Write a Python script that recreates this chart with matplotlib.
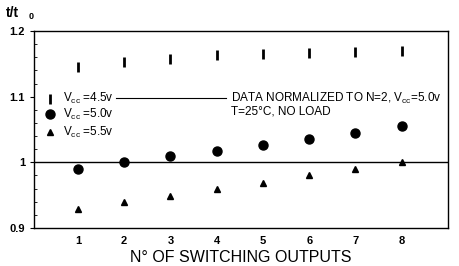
import matplotlib
matplotlib.use("Agg")
import matplotlib.pyplot as plt
from matplotlib.ticker import MultipleLocator

plt.rcParams["font.family"] = ["Liberation Sans", "DejaVu Sans"]
plt.rcParams["mathtext.default"] = "regular"

n_outputs = [1, 2, 3, 4, 5, 6, 7, 8]
vcc_45 = [1.145, 1.153, 1.157, 1.163, 1.165, 1.167, 1.168, 1.170]
vcc_50 = [0.990, 1.000, 1.009, 1.018, 1.027, 1.036, 1.045, 1.055]
vcc_55 = [0.929, 0.939, 0.949, 0.959, 0.969, 0.980, 0.990, 1.000]

fig = plt.figure(figsize=(4.59, 2.66), dpi=100)
ax = fig.add_axes([0.074, 0.143, 0.902, 0.74])

ax.plot(n_outputs, vcc_45, ls="none", marker="|", ms=7, mew=2.0, color="black")
ax.plot(n_outputs, vcc_50, ls="none", marker="o", ms=6.5, color="black")
ax.plot(n_outputs, vcc_55, ls="none", marker="^", ms=5, color="black")

ax.axhline(1.0, color="black", lw=1.0)

ax.set_xlim(0.05, 9.0)
ax.set_ylim(0.9, 1.2)
ax.set_xticks(n_outputs)
ax.set_yticks([0.9, 1.0, 1.1, 1.2])
ax.set_yticklabels(["0.9", "1", "1.1", "1.2"])
ax.yaxis.set_minor_locator(MultipleLocator(0.02))
ax.tick_params(axis="x", length=0, labelsize=8, pad=6)
ax.tick_params(axis="y", which="major", length=3, labelsize=8, direction="out")
ax.tick_params(axis="y", which="minor", length=2, direction="in")
for lab in ax.get_xticklabels() + ax.get_yticklabels():
    lab.set_fontweight("bold")
for s in ax.spines.values():
    s.set_linewidth(1.0)

ax.set_xlabel("N° OF SWITCHING OUTPUTS", fontsize=11.5, labelpad=3)
fig.text(0.012, 0.935, "t/t", fontsize=10, fontweight="bold")
fig.text(0.062, 0.93, "0", fontsize=6.5, fontweight="bold")

# legend drawn by hand like the datasheet
leg_x = 0.4
ax.plot([leg_x], [1.097], ls="none", marker="|", ms=7, mew=2.0, color="black")
ax.plot([leg_x], [1.073], ls="none", marker="o", ms=6.5, color="black")
ax.plot([leg_x], [1.046], ls="none", marker="^", ms=5, color="black")
for y, lab in [(1.097, "4.5v"), (1.073, "5.0v"), (1.046, "5.5v")]:
    ax.text(leg_x + 0.28, y, r"V$_{cc}$ =" + lab, fontsize=8.5, va="center")

ax.plot([1.83, 4.2], [1.098, 1.098], color="black", lw=0.8)
ax.text(4.3, 1.097, r"DATA NORMALIZED TO N=2, V$_{cc}$=5.0v", fontsize=8.5, va="center")
ax.text(4.3, 1.077, "T=25°C, NO LOAD", fontsize=8.5, va="center")

fig.savefig("out.png", dpi=100)
